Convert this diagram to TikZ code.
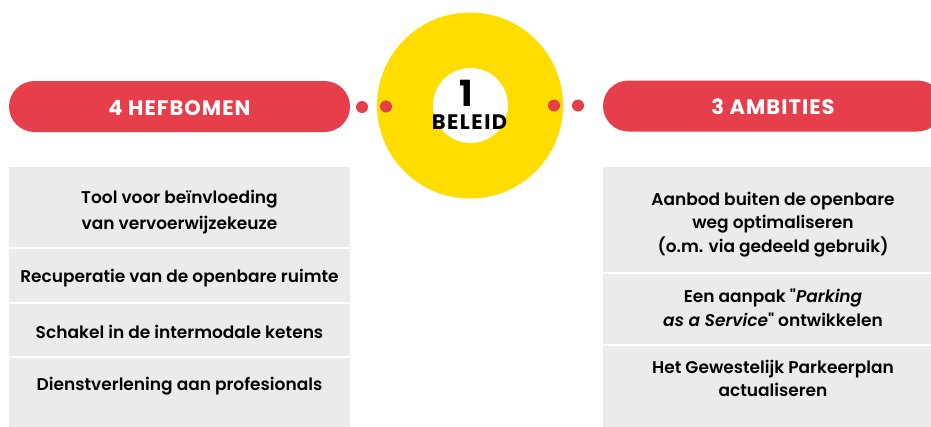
\documentclass[tikz,border=0pt]{standalone}
\usepackage{fontspec}
\setmainfont{Poppins}
\newfontfamily\bodyfont{Poppins SemiBold}
\definecolor{myred}{HTML}{E73E4B}
\definecolor{myyellow}{HTML}{FFDD00}
\definecolor{mygrey}{HTML}{EBEBEB}
\begin{document}
\begin{tikzpicture}[x=1pt,y=-1pt,
 pill/.style={fill=myred, rounded corners=25.5pt, minimum height=51pt, text=white, font=\fontsize{21}{22}\selectfont\bfseries\addfontfeature{LetterSpace=5}, inner sep=0pt},
 dotnode/.style={circle, fill=myred, minimum size=12pt, inner sep=0pt},
 panel/.style={fill=mygrey, inner sep=0pt},
 item/.style={font=\bodyfont\fontsize{17}{26}\selectfont, align=center, text=black, inner sep=0pt},
 ritem/.style={font=\bodyfont\fontsize{17}{23.5}\selectfont, align=center, text=black, inner sep=0pt},
 sepline/.style={white, line width=1.5pt}]
\useasboundingbox (0,0) rectangle (931,426);
\clip (0,0) rectangle (931,426);
% panels
\node[panel, minimum width=341pt, minimum height=260pt] (lp) at (179.5,297) {};
\node[panel, minimum width=340pt, minimum height=260pt] (rp) at (773,297) {};
\draw[sepline] (9,248) -- (350,248);
\draw[sepline] (9,303) -- (350,303);
\draw[sepline] (9,357) -- (350,357);
\draw[sepline] (603,273) -- (943,273);
\draw[sepline] (603,345) -- (943,345);
% pills
\node[pill, minimum width=341pt] (hef) at (179.5,106.5) {};
\node[pill, minimum width=340pt] (amb) at (773,106) {};
\node[text=white, font=\fontsize{21}{22}\selectfont\bfseries\addfontfeature{LetterSpace=5}, inner sep=0pt] (heft) at (179.5,108) {4 HEFBOMEN};
\node[text=white, font=\fontsize{21}{22}\selectfont\bfseries\addfontfeature{LetterSpace=5}, inner sep=0pt] (ambt) at (773,107) {3 AMBITIES};
% ring
\node[circle, fill=myyellow, minimum size=186pt, inner sep=0pt] (ring) at (470,105.5) {};
\node[circle, fill=white, minimum size=75pt, inner sep=0pt] (hole) at (470.5,105.5) {};
\node[font=\fontsize{36}{36}\selectfont\bfseries, inner sep=0pt] (one) at (466,93) {1};
\node[font=\fontsize{21}{22}\selectfont\bfseries\addfontfeature{LetterSpace=7}, inner sep=0pt] (bel) at (469.5,122.5) {BELEID};
% dots
\node[dotnode] (d1) at (362,107) {};
\node[dotnode] (d2) at (386,106.5) {};
\node[dotnode] (d3) at (554,105.5) {};
\node[dotnode] (d4) at (578,105.5) {};
% left items
\node[item] (l1) at (179.5,212) {Tool voor beïnvloeding\\van vervoerwijzekeuze};
\node[item] (l2) at (179.5,278) {Recuperatie van de openbare ruimte};
\node[item] (l3) at (179.5,332) {Schakel in de intermodale ketens};
\node[item] (l4) at (179.5,386) {Dienstverlening aan profesionals};
% right items
\node[ritem] (r1) at (773,224.5) {Aanbod buiten de openbare\\weg optimaliseren\\(o.m. via gedeeld gebruik)};
\node[ritem] (r2) at (773,308) {Een aanpak "\textit{Parking}\\\textit{as a Service}" ontwikkelen};
\node[ritem] (r3) at (773,378.5) {Het Gewestelijk Parkeerplan\\actualiseren};
\end{tikzpicture}
\end{document}
